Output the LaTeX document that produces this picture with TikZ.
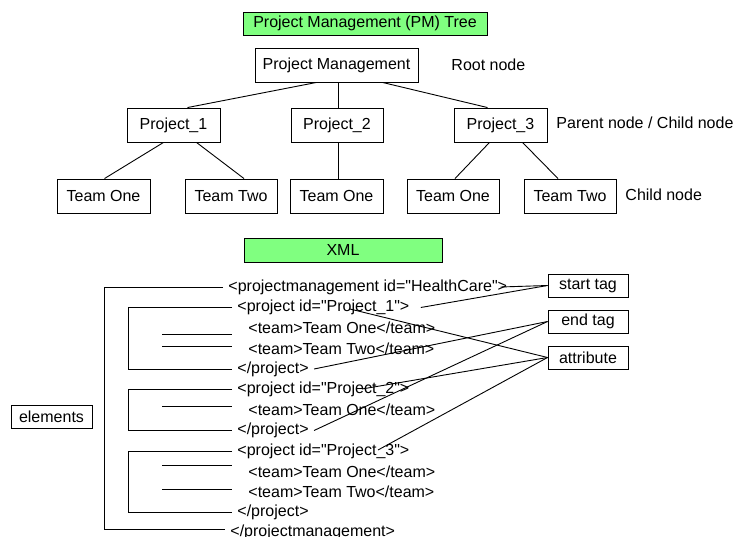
\documentclass[tikz,border=0pt]{standalone}
\usepackage{fontspec}
\setmainfont{Liberation Sans}
\usepackage{tikz}
\definecolor{tagGreen}{RGB}{128,255,128}
\newcommand{\dq}{\textquotedbl}

\begin{document}
\begin{tikzpicture}[x=1pt,y=-1pt,line width=0.9pt,
  font=\fontsize{16}{19}\selectfont,
  box/.style={draw,inner sep=0pt,minimum height=34pt},
  tagbox/.style={draw,inner sep=0pt,minimum width=80pt,minimum height=23pt},
  greenbox/.style={draw,fill=tagGreen,inner sep=0pt,minimum height=23pt},
  lbl/.style={anchor=west,inner sep=0pt},
  xmltxt/.style={anchor=west,inner xsep=5pt,inner ysep=0pt}]
\useasboundingbox (0,0) rectangle (737,537);

\node[greenbox,minimum width=244pt] (title) at (365,23.5) {Project Management (PM) Tree};
\node[box,minimum width=163pt] (root) at (336.5,65) {Project Management};
\node[lbl] (rootlbl) at (451,65) {Root node};

\node[box,minimum width=93pt] (p1) at (173.5,125) {Project\_1};
\node[box,minimum width=92pt] (p2) at (337,125) {Project\_2};
\node[box,minimum width=93pt] (p3) at (500.5,125) {Project\_3};
\node[lbl] (parentlbl) at (556,123) {Parent node / Child node};

\node[box,minimum width=93pt] (t11) at (103.5,196) {Team One};
\node[box,minimum width=92pt] (t12) at (231,196) {Team Two};
\node[box,minimum width=93pt] (t21) at (336.5,196) {Team One};
\node[box,minimum width=92pt] (t31) at (453,196) {Team One};
\node[box,minimum width=92pt] (t32) at (570,196) {Team Two};
\node[lbl] (childlbl) at (625,195) {Child node};

\draw ([xshift=-20pt]root.south) -- ([xshift=14pt]p1.north);
\draw ([xshift=1.5pt]root.south) -- ([xshift=1pt]p2.north);
\draw ([xshift=46pt]root.south) -- ([xshift=-13pt]p3.north);
\draw ([xshift=-10pt]p1.south) -- ([xshift=1pt]t11.north);
\draw ([xshift=23pt]p1.south) -- ([xshift=13pt]t12.north);
\draw ([xshift=1pt]p2.south) -- ([xshift=1.5pt]t21.north);
\draw ([xshift=-11pt]p3.south) -- ([xshift=2pt]t31.north);
\draw ([xshift=22pt]p3.south) -- ([xshift=-12pt]t32.north);

\node[greenbox,minimum width=198pt,minimum height=24pt] (xml) at (343,250) {XML};

\node[xmltxt] (pm) at (223,287) {<projectmanagement id=\dq HealthCare\dq>};
\node[xmltxt] (p1o) at (232,307.5) {<project id=\dq Project\_1\dq>};
\node[xmltxt] (p1a) at (243,328) {<team>Team One</team>};
\node[xmltxt] (p1b) at (243,348.5) {<team>Team Two</team>};
\node[xmltxt] (p1c) at (232,369) {</project>};
\node[xmltxt] (p2o) at (232,389.5) {<project id=\dq Project\_2\dq>};
\node[xmltxt] (p2a) at (243,410) {<team>Team One</team>};
\node[xmltxt] (p2c) at (232,430.5) {</project>};
\node[xmltxt] (p3o) at (232,451) {<project id=\dq Project\_3\dq>};
\node[xmltxt] (p3a) at (243,471.5) {<team>Team One</team>};
\node[xmltxt] (p3b) at (243,492) {<team>Team Two</team>};
\node[xmltxt] (p3c) at (232,512.5) {</project>};
\node[xmltxt] (pmc) at (225,532) {</projectmanagement>};

\node[tagbox] (stag) at (588,285.5) {start tag};
\node[tagbox] (etag) at (588,321.5) {end tag};
\node[tagbox] (attr) at (588,357.5) {attribute};
\node[tagbox,minimum width=81pt] (elem) at (51.5,416.5) {elements};

\draw (pm.west) -- ++(-119,0) |- ([yshift=3pt]pmc.west);
\draw (p1o.west) -- ++(-104,0) |- (p1c.west);
\draw (p2o.west) -- ++(-104,0) |- (p2c.west);
\draw (p3o.west) -- ++(-104,0) |- (p3c.west);
\draw (162,334) -- (232,334);
\draw (162,346) -- (232,346);
\draw (162,406) -- (232,406);
\draw (162,465) -- (232,465);
\draw (162,489) -- (232,489);

\coordinate (id1) at (350,309);
\coordinate (id2) at (362,389);
\coordinate (id3) at (378,450);
\draw ([xshift=-12pt]pm.east) -- (stag.west);
\draw ([xshift=6pt]p1o.east) -- (stag.west);
\draw (p1c.east) -- (etag.west);
\draw (p2c.east) -- (etag.west);
\draw (id1) -- (attr.west);
\draw (id2) -- (attr.west);
\draw (id3) -- (attr.west);
\end{tikzpicture}
\end{document}
